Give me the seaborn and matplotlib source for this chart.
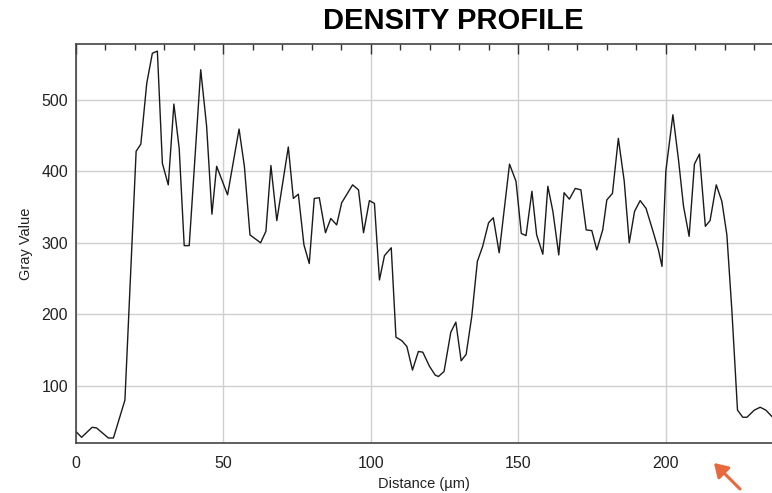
import matplotlib
matplotlib.use("Agg")
import matplotlib.pyplot as plt
import seaborn as sns
import pandas as pd
from matplotlib.ticker import MultipleLocator

distance = [0, 1.9, 5.5, 7.0, 11.0, 12.7, 16.6, 20.4, 22.0, 24.0, 25.9, 27.6, 29.3, 31.3,
            33.2, 35.0, 36.7, 38.4, 42.3, 44.3, 46.1, 47.7, 51.4, 55.3, 57.1, 59.0, 62.6,
            64.4, 66.1, 68.1, 72.0, 73.7, 75.4, 77.3, 79.1, 80.8, 82.5, 84.6, 86.4, 88.4,
            90.1, 93.8, 95.8, 97.5, 99.5, 101.2, 102.9, 104.6, 106.9, 108.5, 110.5, 112.2,
            114.1, 116.1, 117.6, 119.9, 121.8, 122.9, 124.8, 127.1, 128.8, 130.6, 132.3,
            134.2, 136.1, 137.9, 139.9, 141.5, 143.5, 147.0, 149.2, 151.0, 152.6, 154.6,
            156.2, 158.3, 160.0, 161.7, 163.7, 165.5, 167.3, 169.3, 171.2, 173.0, 174.9,
            176.6, 178.6, 180.0, 181.9, 183.9, 185.9, 187.6, 189.4, 191.3, 193.3, 195.8,
            197.5, 198.7, 200.0, 202.4, 204.3, 206.0, 207.9, 209.7, 211.4, 213.4, 215.0,
            217.1, 219.0, 220.7, 222.4, 224.3, 226.1, 227.5, 230.0, 232.0, 233.9, 236.0]
gray_value = [36, 28, 42, 41, 27, 27, 80, 428, 438, 523, 565, 568, 411, 381,
              494, 432, 296, 296, 542, 463, 340, 407, 367, 459, 407, 311, 300,
              316, 408, 331, 434, 362, 368, 297, 271, 362, 363, 314, 334, 325,
              356, 381, 374, 314, 359, 355, 248, 282, 293, 168, 163, 155,
              122, 148, 147, 127, 115, 113, 120, 175, 189, 135, 144,
              197, 274, 295, 328, 335, 286, 410, 386, 313, 310, 372,
              311, 284, 379, 344, 283, 370, 361, 376, 374, 318, 317,
              290, 318, 360, 369, 446, 386, 300, 344, 359, 348, 314,
              290, 267, 400, 479, 416, 351, 309, 410, 424, 323, 331,
              381, 358, 311, 205, 66, 56, 56, 66, 70, 66, 57]

df = pd.DataFrame({"Distance": distance, "Gray": gray_value})

sns.set_style("white")
plt.rcParams["font.family"] = ["Liberation Sans", "DejaVu Sans"]

fig = plt.figure(figsize=(7.72, 4.93), dpi=100)
ax = fig.add_axes([0.0984, 0.1014, 0.9016, 0.8094])

sns.lineplot(data=df, x="Distance", y="Gray", ax=ax, color="#1a1a1a", linewidth=1.0,
             sort=False, estimator=None)

ax.set_xlim(0, 236)
ax.set_ylim(20, 578)
ax.xaxis.set_major_locator(MultipleLocator(50))
ax.xaxis.set_minor_locator(MultipleLocator(10))
ax.yaxis.set_major_locator(MultipleLocator(100))
ax.yaxis.set_minor_locator(MultipleLocator(20))
ax.grid(True, which="major", color="#cfcfcf", linewidth=1.0)
ax.set_axisbelow(True)

ax.tick_params(which="both", direction="in", top=True, right=False, colors="#333333",
               labelcolor="#222222", labelsize=11.5)
ax.tick_params(which="major", length=7, width=1)
ax.tick_params(which="minor", length=4, width=1)
ax.tick_params(axis="x", pad=9)
ax.tick_params(axis="y", pad=5.8)

for s in ["left", "top", "bottom"]:
    ax.spines[s].set_color("#444444")
    ax.spines[s].set_linewidth(1.2)
ax.spines["right"].set_visible(False)

ax.set_xlabel("Distance (µm)", fontsize=10.5, color="#222222", labelpad=5)
ax.set_ylabel("Gray Value", fontsize=10.5, color="#222222", labelpad=6)

fig.text(0.587, 0.958, "DENSITY PROFILE", ha="center", va="center", fontsize=21,
         fontweight="bold", color="black",
         family=["Liberation Sans Narrow", "Liberation Sans", "DejaVu Sans"])

fig.patches.append(matplotlib.patches.FancyArrowPatch(
    (742 / 772, 1 - 491 / 493), (712 / 772, 1 - 461 / 493), transform=fig.transFigure,
    arrowstyle="-|>,head_length=8,head_width=5", color="#e8693e", linewidth=2.2,
    mutation_scale=1))

fig.savefig("out.png", dpi=100)
